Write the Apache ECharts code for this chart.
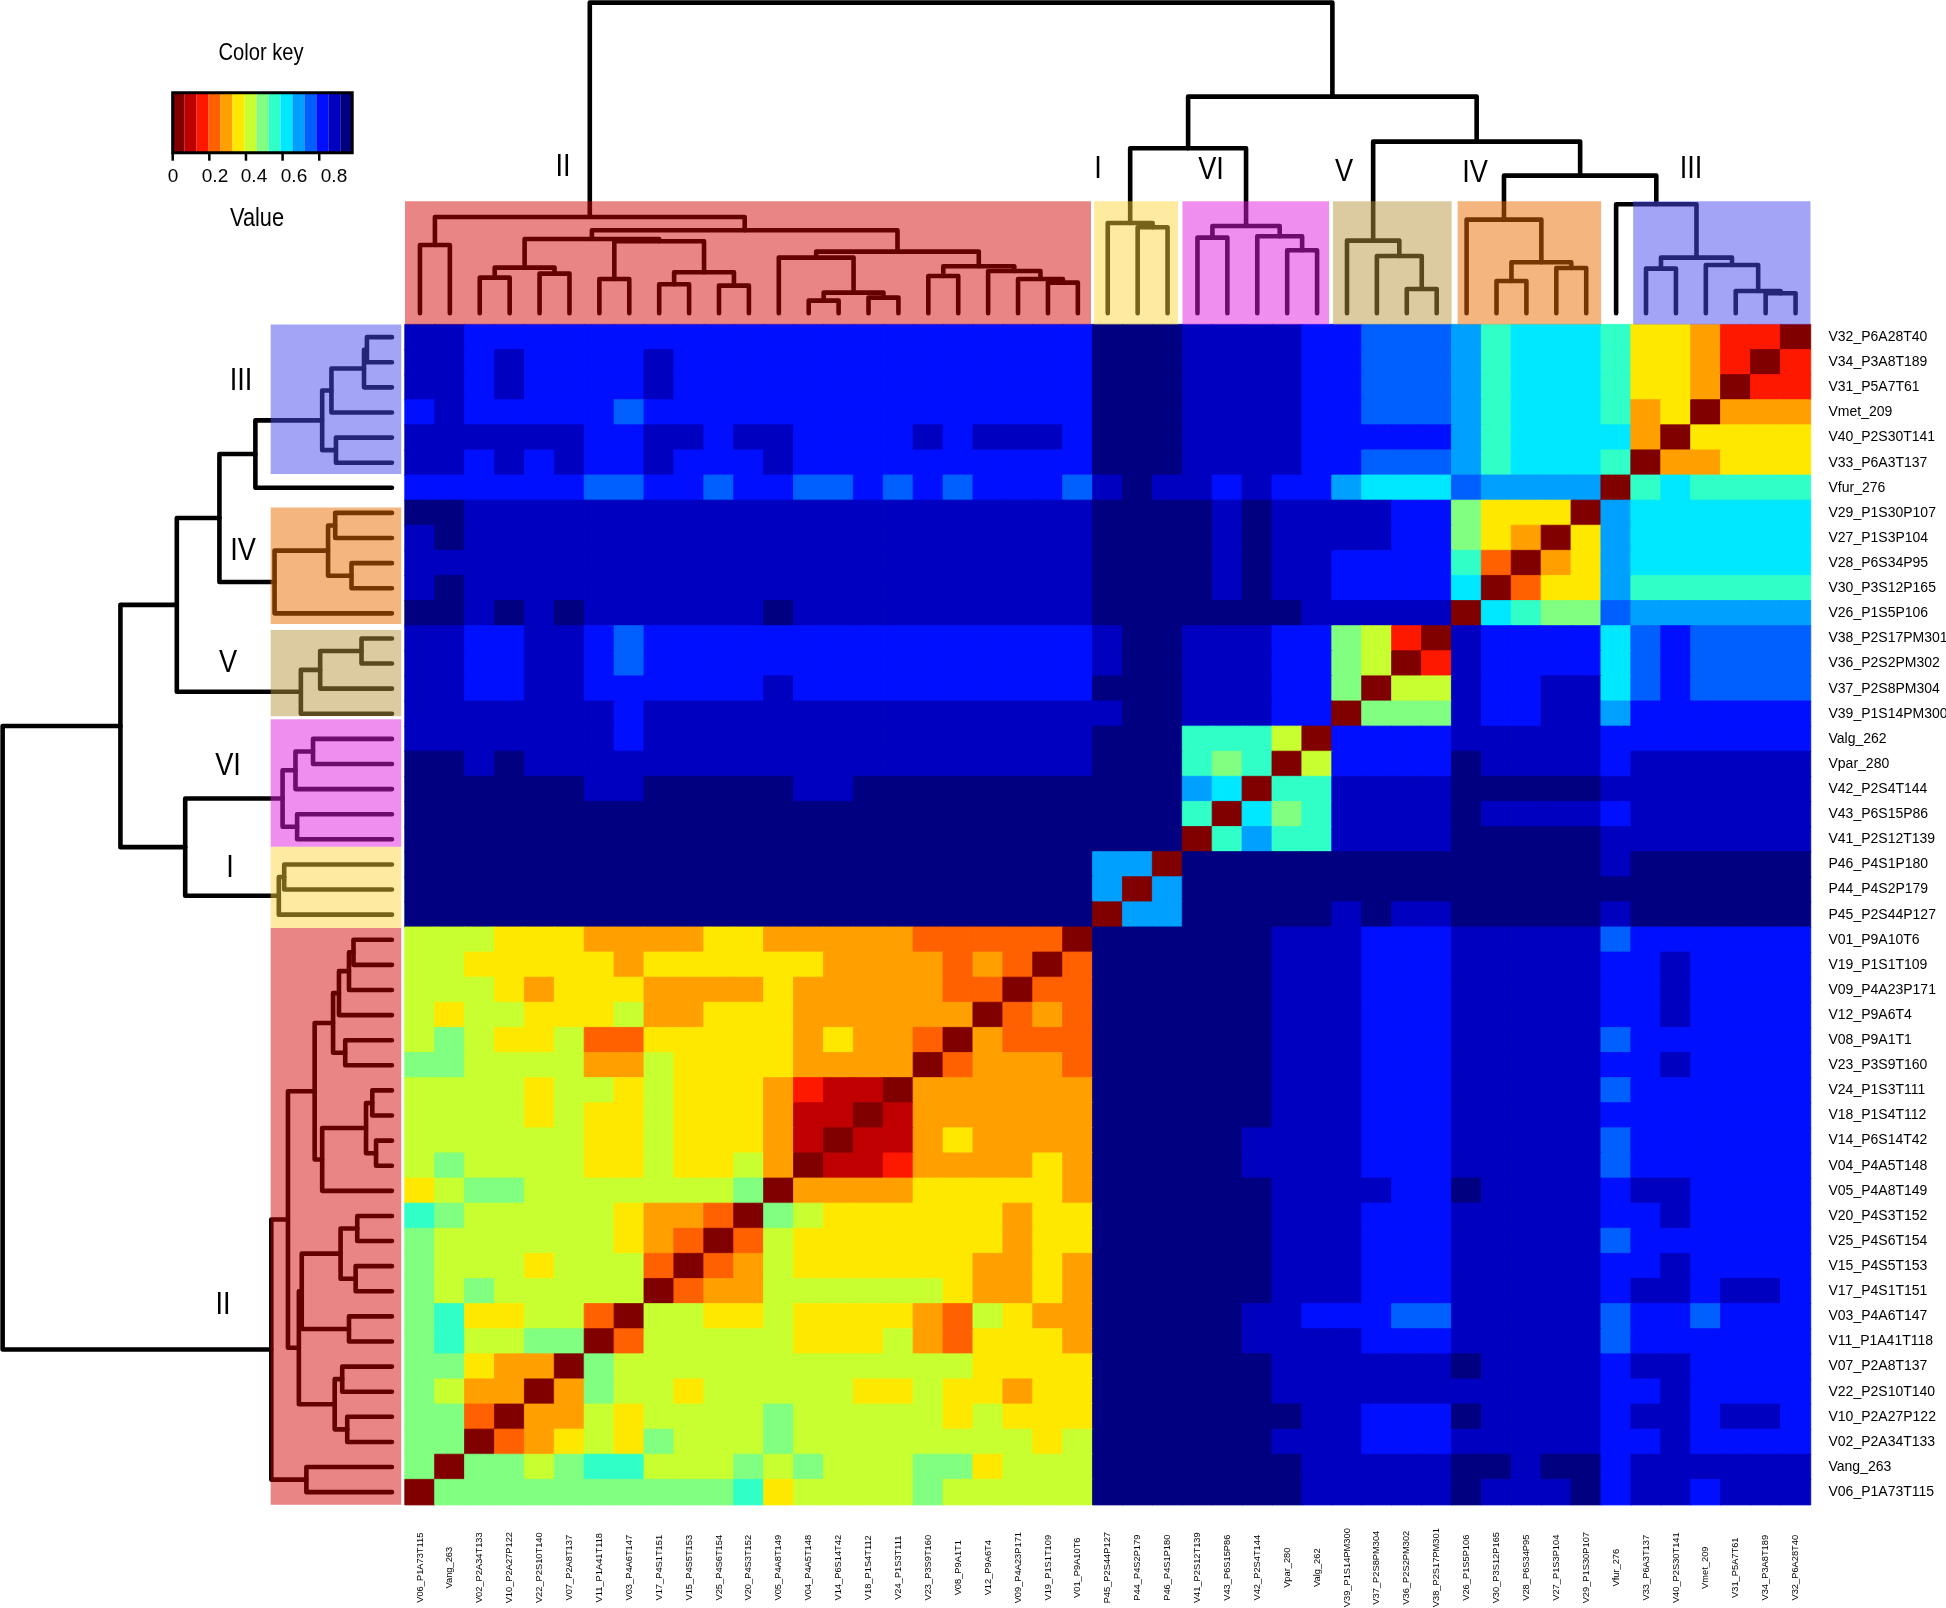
<!DOCTYPE html>
<html>
<head>
<meta charset="utf-8">
<style>html,body{margin:0;padding:0;background:#fff}#c{width:1946px;height:1608px}</style>
<script src="https://cdn.jsdelivr.net/npm/echarts@6/dist/echarts.min.js"></script>
</head>
<body>
<div id="c"></div>
<script>
// Row labels, top to bottom. Columns are the same samples in reverse order.
const rowNames = ["V32_P6A28T40","V34_P3A8T189","V31_P5A7T61","Vmet_209","V40_P2S30T141","V33_P6A3T137","Vfur_276",
"V29_P1S30P107","V27_P1S3P104","V28_P6S34P95","V30_P3S12P165","V26_P1S5P106",
"V38_P2S17PM301","V36_P2S2PM302","V37_P2S8PM304","V39_P1S14PM300",
"Valg_262","Vpar_280","V42_P2S4T144","V43_P6S15P86","V41_P2S12T139",
"P46_P4S1P180","P44_P4S2P179","P45_P2S44P127",
"V01_P9A10T6","V19_P1S1T109","V09_P4A23P171","V12_P9A6T4","V08_P9A1T1","V23_P3S9T160","V24_P1S3T111","V18_P1S4T112","V14_P6S14T42","V04_P4A5T148","V05_P4A8T149","V20_P4S3T152","V25_P4S6T154","V15_P4S5T153","V17_P4S1T151","V03_P4A6T147","V11_P1A41T118","V07_P2A8T137","V22_P2S10T140","V10_P2A27P122","V02_P2A34T133","Vang_263","V06_P1A73T115"];
const colNames = rowNames.slice().reverse();

// Colour-key bin read for every cell: 0..9, A..E = the 15 bins of the key, from 0 upward.
const cellBins = [
"DDCCCCCCCCCCCCCCCCCCCCC EEEDDDDCCBBBA89998554220",
"DDCDCCCCDCCCCCCCCCCCCCC EEEDDDDCCBBBA89998554202",
"DDCDCCCCDCCCCCCCCCCCCCC EEEDDDDCCBBBA89998554022",
"CDCCCCCBCCCCCCCCCCCCCCC EEEDDDDCCBBBA89998450444",
"DDDDDDCCDDCDDCCCCDCDDDC EEEDDDDCCCCCA89999405555",
"DDCDCDCCDCCCDCCCCCCCCCC EEEDDDDCCBBBA89998044555",
"CCCCCCBBCCBCCBBCBCBCCCB DEDDCDCCA999BAAAA0898888",
"EEDDDDDDDDDDDDDDDDDDDDD EEEEDEDDDDCC75550A999999",
"DEDDDDDDDDDDDDDDDDDDDDD EEEEDEDDDDCC75405A999999",
"DDDDDDDDDDDDDDDDDDDDDDD EEEEDEDDCCCC83045A999999",
"DEDDDDDDDDDDDDDDDDDDDDD EEEEDEDDCCCC90355A888888",
"EEDEDEDDDDDDEDDDDDDDDDD EEEEEEEDDDDD09877BAAAAAA",
"DDCCDDCBCCCCCCCCCCCCCCC DEEDDDCC7620DCCCC9BCBBBB",
"DDCCDDCBCCCCCCCCCCCCCCC DEEDDDCC7602DCCCC9BCBBBB",
"DDCCDDCCCCCCDCCCCCCCCCC EEEDDDCC7066DCCDD9BCBBBB",
"DDDDDDDCDDDDDDDDDDDDDDD DEEDDDCC0777DCCDDACCCCCC",
"DDDDDDDCDDDDDDDDDDDDDDD EEE88860CCCCDDDDDCCCCCCC",
"EEDEDDDDDDDDDDDDDDDDDDD EEE87806CCCCEDDDDCDDDDDD",
"EEEEEEDDEEEEEDDEEEEEEEE EEEA9088DDDDEEEEEDDDDDDD",
"EEEEEEEEEEEEEEEEEEEEEEE EEE80978DDDDEDDDDCDDDDDD",
"EEEEEEEEEEEEEEEEEEEEEEE EEE08A88DDDDEEEEEDDDDDDD",
"EEEEEEEEEEEEEEEEEEEEEEE AA0EEEEEEEEEEEEEEDEEEEEE",
"EEEEEEEEEEEEEEEEEEEEEEE A0AEEEEEEEEEEEEEEEEEEEEE",
"EEEEEEEEEEEEEEEEEEEEEEE 0AAEEEEEDEDDEEEEEDEEEEEE",
"66655544445544444333330 EEEEEEDDDCCCDDDDDBCCCCCC",
"66555554555555444434303 EEEEEEDDDCCCDDDDDCCDCCCC",
"66654555444454444433033 EEEEEEDDDCCCDDDDDCCDCCCC",
"65665556445554444440343 EEEEEEDDDCCCDDDDDCCDCCCC",
"67655633555554544304333 EEEEEEDDDCCCDDDDDBCCCCCC",
"77666644655554444034443 EEEEEEDDDCCCDDDDDCCDCCCC",
"66665665655542110444444 EEEEEEDDDCCCDDDDDBCCCCCC",
"66665655655541101444444 EEEEEEDDDCCCDDDDDCCCCCCC",
"66666655655541011454444 EEEEEDDDDCCCDDDDDBCCCCCC",
"67666655655640112444454 EEEEEDDDDCCCDDDDDBCCCCCC",
"56776666666704444555554 EEEEEEDDDDCCEDDDDCDDCCCC",
"87666665443076555555455 EEEEEEDDDCCCDDDDDCCDCCCC",
"76666665430365555555455 EEEEEEDDDCCCDDDDDBCCCCCC",
"76665666303465555554454 EEEEEEDDDCCCDDDDDCCDCCCC",
"76766666034466666654454 EEEEEEDDDCCCDDDDDCDDCDDC",
"78556630665565555436544 EEEEEDDCCCBBDDDDDBCCBCCC",
"78667703666665556435554 EEEEEDDDDCCCDDDDDBCCCCCC",
"77544076666666666665555 EEEEEEDDDDDDEDDDDCDDCCCC",
"76440476656666655655455 EEEEEEDDDDDDDDDDDCCDCCCC",
"77304465666676666656555 EEEEEEEDDCCCEDDDDCDDCDDC",
"77034565766676666666656 EEEEEEDDDCCCDDDDDCCDCCCC",
"70776788666767666775666 EEEEEEEDDDDDEEDEECDDDDDD",
"07777777777856666766666 EEEEEEEDDDDDEDDDECDDCDDD"
];

// Colour key
const keyColors = ["#800000","#C00000","#FF1800","#FF6000","#FFA000","#FFE800","#C8FF30","#80FF80","#30FFC8","#00E8FF","#00A0FF","#0060FF","#0010FF","#0000C0","#000080"];
const keyMax = 0.98;
const keyTicks = [0,0.2,0.4,0.6,0.8];
const keyTickLabels = ["0","0.2","0.4","0.6","0.8"];
const keyLabelX = [173,215,254,294,334];

// Tree merges: [left, right, height]. A child < 100 is a column index, a child >= 100 is merge (child-100).
const merges = [
[0,1,68.3],[2,3,35.7],[4,5,39.7],[101,102,45.7],[6,7,34.3],[8,9,29],[10,11,27.7],[105,106,41],[104,107,72],[103,108,74.3],
[13,14,12.7],[15,16,15.7],[110,111,20.7],[12,112,55.7],[17,18,37.3],[21,22,30.7],[20,115,34.3],[19,116,42.3],[114,117,47],[113,118,61.7],
[109,119,83],[100,120,96.3],
[24,25,86],[23,122,90.3],
[26,27,75.7],[29,30,63],[28,125,77],[124,126,87.3],[123,127,165],
[33,34,24.3],[32,129,57.3],[31,130,72.7],
[36,37,32.3],[38,39,45.3],[132,133,51],[35,134,93.7],
[41,42,44.7],[45,46,20],[44,137,22.3],[43,138,48.3],[136,139,55.7],[40,140,109],
[135,141,137.7],[131,142,171.7],[128,143,216.7],[121,144,310.7]
];

// Shaded clusters: start and end along the columns, on the top and on the left tree
const clusterNames = ["II","I","VI","V","IV","III"];
const topSpans  = [[0,22.94],[23.04,25.85],[26,30.9],[31.03,35],[35.2,40],[41.07,47]];
const leftSpans = [[0,22.97],[22.97,26.2],[26.2,31.28],[31.4,34.84],[35.08,39.72],[41.05,47]];
const clusterFills = ["rgba(210,0,0,.48)","rgba(255,212,51,.467)","rgba(224,24,224,.49)","rgba(184,149,61,.49)","rgba(234,108,0,.5)","rgba(74,74,240,.5)"];
const topLabelSpots  = [[563,167],[1098,169],[1211,170],[1344,172],[1475,173],[1691,169]];
const leftLabelSpots = [[223,1305],[230,868],[228,766],[228,663],[243,551],[241,381]];

// ---------- derived ----------
const step = keyMax / keyColors.length;
const heatData = [];
cellBins.forEach(function (row, r) {
  row.replace(/ /g, '').split('').forEach(function (ch, c) {
    const bin = parseInt(ch, 16);
    heatData.push({ value: [c, r, (bin + 0.5) * step], itemStyle: { borderColor: keyColors[bin], borderWidth: 0.8 } });
  });
});

const nodeX = {}, nodeH = {};
const segs = merges.map(function (m, i) {
  const xa = m[0] < 100 ? m[0] + 0.5 : nodeX[m[0]];
  const ha = m[0] < 100 ? 0 : nodeH[m[0]];
  const xb = m[1] < 100 ? m[1] + 0.5 : nodeX[m[1]];
  const hb = m[1] < 100 ? 0 : nodeH[m[1]];
  nodeX[100 + i] = (xa + xb) / 2;
  nodeH[100 + i] = m[2];
  return [xa, ha, m[2], xb, hb];
});

function treeSeries(ax, horizontal) {
  return {
    type: 'custom', xAxisIndex: ax, yAxisIndex: ax, z: 2, silent: true, clip: false, data: segs,
    renderItem: function (params, api) {
      const p = function (x, h) { return api.coord(horizontal ? [h, x] : [x, h]); };
      const xa = api.value(0), ha = api.value(1), h = api.value(2), xb = api.value(3), hb = api.value(4);
      return {
        type: 'polyline',
        shape: { points: [p(xa, ha), p(xa, h), p(xb, h), p(xb, hb)] },
        style: { stroke: '#000', fill: 'none', lineWidth: 4.6, lineCap: 'round', lineJoin: 'round' }
      };
    }
  };
}
function bandSeries(ax, horizontal, spans, lo, hi) {
  return {
    type: 'custom', xAxisIndex: ax, yAxisIndex: ax, z: 3, silent: true, clip: false, data: spans,
    renderItem: function (params, api) {
      const s0 = api.value(0), s1 = api.value(1);
      const a = api.coord(horizontal ? [hi, s1] : [s0, hi]);
      const b = api.coord(horizontal ? [lo, s0] : [s1, lo]);
      return {
        type: 'rect',
        shape: { x: Math.min(a[0], b[0]), y: Math.min(a[1], b[1]), width: Math.abs(a[0] - b[0]), height: Math.abs(a[1] - b[1]) },
        style: { fill: clusterFills[params.dataIndex] }
      };
    }
  };
}
function hiddenValue(min, max, extra) {
  return Object.assign({ type: 'value', show: false, min: min, max: max, splitLine: { show: false } }, extra || {});
}
const font = '"Liberation Sans", Arial, sans-serif';
function txt(s, x, y, size, sx) {
  return { type: 'text', silent: true, x: x, y: y, scaleX: sx || 1, style: { text: s, x: 0, y: 0, font: size + 'px ' + font, fill: '#000', textAlign: 'center', textVerticalAlign: 'middle' } };
}

const chart = echarts.init(document.getElementById('c'), null, { renderer: 'canvas', width: 1946, height: 1608 });
chart.setOption({
  animation: false,
  backgroundColor: '#fff',
  grid: [
    { left: 405, top: 324.6, width: 1405.5, height: 1180.1, outerBoundsMode: 'none' },
    { left: 405, top: 0, width: 1405.5, height: 324.6, outerBoundsMode: 'none' },
    { left: 0, top: 324.6, width: 405, height: 1180.1, outerBoundsMode: 'none' },
    { left: 172.7, top: 92.7, width: 179.5, height: 60, outerBoundsMode: 'none' }
  ],
  xAxis: [
    { type: 'category', data: colNames, gridIndex: 0, axisLine: { show: false }, axisTick: { show: false }, splitLine: { show: false },
      axisLabel: { interval: 0, rotate: 90, align: 'center', verticalAlign: 'middle', margin: 63, fontSize: 9.3, fontFamily: font, color: '#000' } },
    hiddenValue(0, 47, { gridIndex: 1 }),
    hiddenValue(-10.4, 312.8, { gridIndex: 2, inverse: true }),
    { type: 'value', gridIndex: 3, min: 0, max: keyMax, splitLine: { show: false },
      axisLine: { show: false }, axisTick: { show: false }, axisLabel: { show: false } }
  ],
  yAxis: [
    { type: 'category', data: rowNames, inverse: true, position: 'right', gridIndex: 0, axisLine: { show: false }, axisTick: { show: false }, splitLine: { show: false },
      axisLabel: { interval: 0, margin: 18, fontSize: 14, fontFamily: font, color: '#000', padding: [7, 0, 0, 0] } },
    hiddenValue(-11.3, 313.3, { gridIndex: 1 }),
    hiddenValue(0, 47, { gridIndex: 2 }),
    hiddenValue(0, 1, { gridIndex: 3 })
  ],
  visualMap: {
    type: 'piecewise', show: false, seriesIndex: 0, dimension: 2,
    pieces: keyColors.map(function (col, k) { return { min: k * step, max: (k + 1) * step, color: col }; })
  },
  series: [
    { type: 'heatmap', xAxisIndex: 0, yAxisIndex: 0, data: heatData, progressive: 0, emphasis: { disabled: true } },
    treeSeries(1, false),
    bandSeries(1, false, topSpans, -11.3, 112),
    treeSeries(2, true),
    bandSeries(2, true, leftSpans, -7.4, 96.8),
    { type: 'custom', xAxisIndex: 3, yAxisIndex: 3, silent: true, clip: false, z: 2, data: keyColors.map(function (c, k) { return [k * step, (k + 1) * step]; }),
      renderItem: function (params, api) {
        const a = api.coord([api.value(0), 1]), b = api.coord([api.value(1), 0]);
        return { type: 'rect', shape: { x: a[0], y: a[1], width: b[0] - a[0], height: b[1] - a[1] }, style: { fill: keyColors[params.dataIndex] } };
      } },
    { type: 'custom', xAxisIndex: 3, yAxisIndex: 3, silent: true, clip: false, z: 3, data: [[0, keyMax]],
      renderItem: function (params, api) {
        const a = api.coord([api.value(0), 1]), b = api.coord([api.value(1), 0]);
        return { type: 'rect', shape: { x: a[0], y: a[1], width: b[0] - a[0], height: b[1] - a[1] }, style: { fill: 'none', stroke: '#000', lineWidth: 3 } };
      } },
    { type: 'custom', xAxisIndex: 3, yAxisIndex: 3, silent: true, clip: false, z: 3, data: keyTicks.map(function (t) { return [t]; }),
      renderItem: function (params, api) {
        const a = api.coord([api.value(0), 0]);
        return { type: 'line', shape: { x1: a[0], y1: a[1], x2: a[0], y2: a[1] + 8 }, style: { stroke: '#000', lineWidth: 2.5 } };
      } }
  ],
  graphic: { elements: [
    txt('Color key', 261, 53, 24, 0.84),
    txt('Value', 257, 219, 25, 0.87)
  ].concat(keyTickLabels.map(function (s, i) { return txt(s, keyLabelX[i], 177, 19); }))
   .concat(clusterNames.map(function (n, i) { return txt(n, topLabelSpots[i][0], topLabelSpots[i][1], 32, 0.85); }))
   .concat(clusterNames.map(function (n, i) { return txt(n, leftLabelSpots[i][0], leftLabelSpots[i][1], 32, 0.85); })) }
});
</script>
</body>
</html>
